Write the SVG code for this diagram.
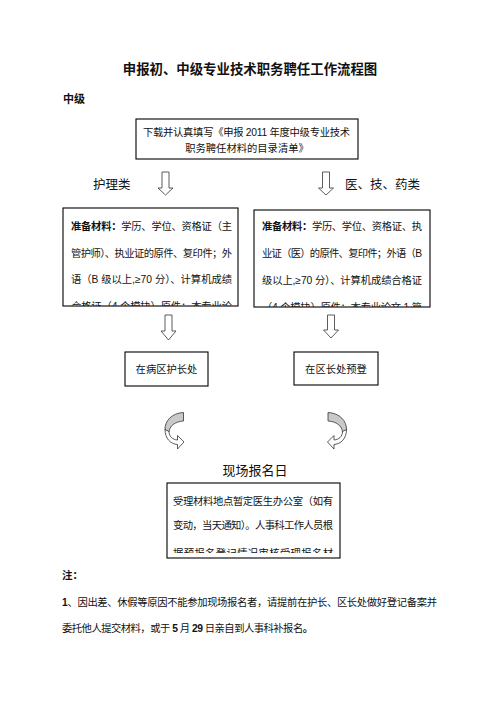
<svg xmlns="http://www.w3.org/2000/svg" width="496" height="702" viewBox="0 0 496 702">
<style>
text{font-family:"Liberation Sans","Noto Sans CJK SC",sans-serif;fill:#111;}
.t{font-size:10.3px;}
.b{font-weight:bold;}
.box{fill:#fff;stroke:#000;stroke-width:1.1;}
.blk{fill:#fff;stroke:#333;stroke-width:0.8;}
.cg{fill:#c9c9c9;stroke:#333;stroke-width:0.8;}
.cw{fill:#fff;stroke:#333;stroke-width:0.8;}
</style>
<defs>
<clipPath id="cl"><rect x="63" y="208" width="175" height="98"/></clipPath>
<clipPath id="cr"><rect x="254" y="210" width="176" height="97"/></clipPath>
<clipPath id="cb"><rect x="167" y="483" width="173" height="70"/></clipPath>
<g id="curve">
<path class="cg" d="M183.5,412.5 C172,413 164.5,421 165,430 L169,432 C169.5,426 175,421.5 183.5,421 Z"/>
<path class="cw" d="M165,429.5 C165,438.5 170.5,444 177.5,444.5 L177.5,449 L184,442 L177.5,435.5 L177.5,440 C172.5,439.5 169,436.5 169,431.5 Z"/>
</g>
</defs>
<rect width="496" height="702" fill="#fff"/>
<g id="title">
<text x="250" y="74" font-size="13.4" class="b" text-anchor="middle">申报初、中级专业技术职务聘任工作流程图</text>
<text x="63" y="103" font-size="11" class="b">中级</text>
</g>
<g id="n_download">
<rect class="box" x="136" y="119" width="222" height="40"/>
<text class="t" x="143" y="136" textLength="207" lengthAdjust="spacing">下载并认真填写《申报 2011 年度中级专业技术</text>
<text class="t" x="247" y="152" text-anchor="middle">职务聘任材料的目录清单》</text>
</g>
<g id="lbl_nursing"><text x="93" y="188.5" font-size="12.5">护理类</text></g>
<g id="lbl_medical"><text x="345" y="188.5" font-size="12.5">医、技、药类</text></g>
<g id="n_nursing_materials">
<rect class="box" x="63" y="208" width="175" height="98"/>
<g clip-path="url(#cl)">
<text class="t" x="71" y="230" textLength="161" lengthAdjust="spacing"><tspan class="b">准备材料：</tspan>学历、学位、资格证（主</text>
<text class="t" x="71" y="256.5" textLength="161" lengthAdjust="spacing">管护师）、执业证的原件、复印件；外</text>
<text class="t" x="71" y="283" textLength="161" lengthAdjust="spacing">语（B 级以上,≥70 分）、计算机成绩</text>
<text class="t" x="71" y="309.5" textLength="161" lengthAdjust="spacing">合格证（4 个模块）原件；本专业论</text>
</g>
</g>
<g id="n_medical_materials">
<rect class="box" x="254" y="210" width="176" height="97"/>
<g clip-path="url(#cr)">
<text class="t" x="262" y="230" textLength="160" lengthAdjust="spacing"><tspan class="b">准备材料：</tspan>学历、学位、资格证、执</text>
<text class="t" x="262" y="257" textLength="160" lengthAdjust="spacing">业证（医）的原件、复印件；外语（B</text>
<text class="t" x="262" y="284" textLength="160" lengthAdjust="spacing">级以上,≥70 分）、计算机成绩合格证</text>
<text class="t" x="262" y="310.5" textLength="160" lengthAdjust="spacing">（4 个模块）原件；本专业论文 1 篇</text>
</g>
</g>
<g id="n_head_nurse">
<rect class="box" x="125" y="352" width="83" height="34"/>
<text class="t" x="166.5" y="373" text-anchor="middle">在病区护长处</text>
</g>
<g id="n_district_head">
<rect class="box" x="294" y="352" width="84" height="33"/>
<text class="t" x="336" y="372.5" text-anchor="middle">在区长处预登</text>
</g>
<g id="lbl_onsite"><text x="255" y="475" font-size="13" text-anchor="middle">现场报名日</text></g>
<g id="n_onsite">
<rect class="box" x="167" y="483" width="173" height="75"/>
<g clip-path="url(#cb)">
<text class="t" x="173" y="504.5" textLength="160" lengthAdjust="spacing">受理材料地点暂定医生办公室（如有</text>
<text class="t" x="173" y="528.5" textLength="160" lengthAdjust="spacing">变动，当天通知）。人事科工作人员根</text>
<text class="t" x="173" y="557" textLength="160" lengthAdjust="spacing">据预报名登记情况审核受理报名材</text>
</g>
</g>
<g id="notes">
<text x="62" y="579" font-size="10.5" class="b">注：</text>
<text x="62" y="606" font-size="10.3" textLength="375" lengthAdjust="spacing"><tspan class="b">1</tspan>、因出差、休假等原因不能参加现场报名者，请提前在护长、区长处做好登记备案并</text>
<text x="62" y="632" font-size="10.3" textLength="251" lengthAdjust="spacing">委托他人提交材料，或于 <tspan class="b">5</tspan> 月 <tspan class="b">29</tspan> 日亲自到人事科补报名<tspan class="b">。</tspan></text>
</g>
<g id="connectors">
<path class="blk" d="M162,172 H169 V188 H173 L165.5,195 L158,188 H162 Z"/>
<path class="blk" d="M322.5,172 H329.5 V188 H333.5 L326,195 L318.5,188 H322.5 Z"/>
<path class="blk" d="M165,315 H172 V331 H176 L168.5,340 L161,331 H165 Z"/>
<path class="blk" d="M327.5,315 H334.5 V330 H338.5 L331,338 L323.5,330 H327.5 Z"/>
<use href="#curve"/>
<use href="#curve" transform="translate(511.5,0) scale(-1,1)"/>
</g>
</svg>
